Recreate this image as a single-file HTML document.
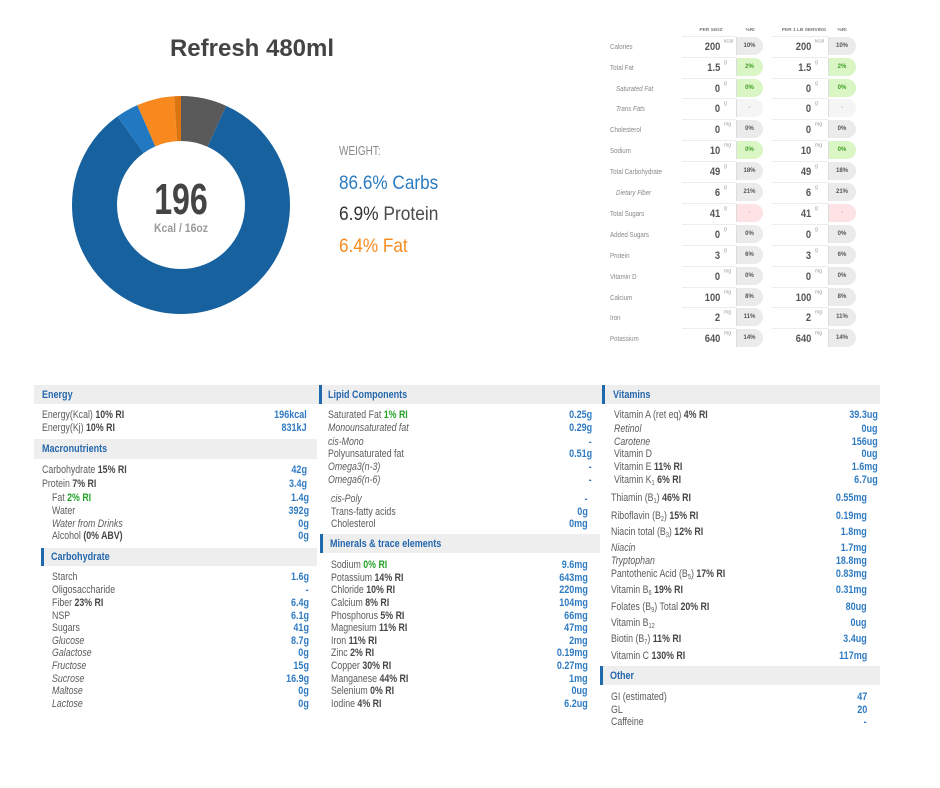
<!DOCTYPE html>
<html><head><meta charset="utf-8">
<style>
html,body{margin:0;padding:0}
body{width:940px;height:788px;background:#fff;position:relative;overflow:hidden;font-family:"Liberation Sans",sans-serif}
.a{position:absolute;white-space:nowrap}
.l{position:absolute;white-space:nowrap;font-size:11px;line-height:12px;color:#5c5c5c;transform:scaleX(.8);transform-origin:0 0}
.l b{color:#464646}
.l .g{color:#25a329;font-weight:bold}
.l sub{font-size:7px;vertical-align:-2px;line-height:0}
.v{position:absolute;white-space:nowrap;font-size:11px;line-height:12px;color:#2f7bc2;font-weight:bold;transform:scaleX(.82);transform-origin:100% 0;text-align:right}
.h{position:absolute;background:#eeeeee;height:19px}
.ht{position:absolute;font-size:11px;line-height:12px;color:#2467ad;font-weight:bold;transform:scaleX(.82);transform-origin:0 0;white-space:nowrap}
.bar{position:absolute;width:3px;background:#1f69ad}
.r{position:absolute;left:0;width:940px;height:21px}
.tl{position:absolute;left:610px;top:5.5px;font-size:7.5px;line-height:9px;color:#888;transform:scaleX(.82);transform-origin:0 0;white-space:nowrap}
.tl.i{left:616px;font-style:italic}
.ln1{position:absolute;left:682px;top:0;width:54px;height:1px;background:#ececec}
.ln2{position:absolute;left:772px;top:0;width:56px;height:1px;background:#ececec}
.n1,.n2{position:absolute;top:5.7px;font-size:11px;line-height:11px;color:#555;font-weight:bold;transform:scaleX(.85);transform-origin:100% 0;text-align:right;white-space:nowrap}
.n1{right:220px}.n2{right:129px}
.u1,.u2{position:absolute;top:3px;font-size:6px;line-height:6px;color:#999;transform:scale(.85);transform-origin:0 0;white-space:nowrap}
.u1{left:724px}.u2{left:815px}
.p1,.p2{position:absolute;top:1px;height:18px;border-radius:0 9px 9px 0;background:#ebebeb;font-size:6px;line-height:18px;font-weight:bold;color:#555;text-align:center;box-shadow:inset 1px 0 0 #dcdcdc}
.p1{left:736px;width:27px}.p2{left:828px;width:28px}
.gr{background:#d9f6c4;color:#3f9f28}
.pk{background:#fde2e6;color:#e9a0a8}
.wt{background:#f5f5f5;color:#aaa}
.th{position:absolute;top:27px;width:60px;text-align:center;font-size:6px;line-height:6px;font-weight:bold;color:#777;transform:scale(.8);white-space:nowrap}
</style></head><body>

<!-- Title -->
<div class="a" style="left:152px;top:36.5px;width:200px;text-align:center;font-size:24px;line-height:24px;font-weight:bold;color:#444">Refresh 480ml</div>

<!-- Donut -->
<svg class="a" style="left:0;top:0" width="470" height="340" viewBox="0 0 470 340">
<g transform="rotate(-90 181 205)" fill="none" stroke-width="45">
<circle cx="181" cy="205" r="86.5" stroke="#5a5a5a" stroke-dasharray="37.0 600" stroke-dashoffset="0"/>
<circle cx="181" cy="205" r="86.5" stroke="#17619f" stroke-dasharray="452.5 600" stroke-dashoffset="-37.0"/>
<circle cx="181" cy="205" r="86.5" stroke="#2379c1" stroke-dasharray="18.1 600" stroke-dashoffset="-489.5"/>
<circle cx="181" cy="205" r="86.5" stroke="#f7891e" stroke-dasharray="30.2 600" stroke-dashoffset="-507.6"/>
<circle cx="181" cy="205" r="86.5" stroke="#dc740f" stroke-dasharray="6.0 600" stroke-dashoffset="-537.8"/>
</g>
</svg>
<div class="a" style="left:131px;top:177.8px;width:100px;text-align:center;font-size:44px;line-height:44px;font-weight:bold;color:#444;transform:scaleX(.73)">196</div>
<div class="a" style="left:131px;top:221.5px;width:100px;text-align:center;font-size:12px;line-height:12px;font-weight:bold;color:#9a9a9a;transform:scaleX(.87)">Kcal / 16oz</div>

<!-- Weight legend -->
<div class="a" style="left:339px;top:145.4px;font-size:12.5px;line-height:12.5px;color:#888;transform:scaleX(.8);transform-origin:0 0">WEIGHT:</div>
<div class="a" style="left:339px;top:173.5px;font-size:19.5px;line-height:19.5px;color:#2b7bc0;transform:scaleX(.88);transform-origin:0 0">86.6% Carbs</div>
<div class="a" style="left:339px;top:205.2px;font-size:19.5px;line-height:19.5px;color:#4a4a4a;transform:scaleX(.89);transform-origin:0 0"><span style="color:#333">6.9%</span> Protein</div>
<div class="a" style="left:339px;top:236.8px;font-size:19.5px;line-height:19.5px;color:#f68b1f;transform:scaleX(.88);transform-origin:0 0">6.4% Fat</div>

<!-- Right nutrition table -->
<div class="th" style="left:681px">PER 16OZ</div>
<div class="th" style="left:720px">%RI</div>
<div class="th" style="left:774px">PER 1 LB SERVING</div>
<div class="th" style="left:812px">%RI</div>

<div class="r" style="top:36px"><div class="tl">Calories</div><div class="ln1"></div><div class="ln2"></div><div class="n1">200</div><div class="u1">kcal</div><div class="p1">10%</div><div class="n2">200</div><div class="u2">kcal</div><div class="p2">10%</div></div>
<div class="r" style="top:57px"><div class="tl">Total Fat</div><div class="ln1"></div><div class="ln2"></div><div class="n1">1.5</div><div class="u1">g</div><div class="p1 gr">2%</div><div class="n2">1.5</div><div class="u2">g</div><div class="p2 gr">2%</div></div>
<div class="r" style="top:78px"><div class="tl i">Saturated Fat</div><div class="ln1"></div><div class="ln2"></div><div class="n1">0</div><div class="u1">g</div><div class="p1 gr">0%</div><div class="n2">0</div><div class="u2">g</div><div class="p2 gr">0%</div></div>
<div class="r" style="top:98px"><div class="tl i">Trans Fats</div><div class="ln1"></div><div class="ln2"></div><div class="n1">0</div><div class="u1">g</div><div class="p1 wt">-</div><div class="n2">0</div><div class="u2">g</div><div class="p2 wt">-</div></div>
<div class="r" style="top:119px"><div class="tl">Cholesterol</div><div class="ln1"></div><div class="ln2"></div><div class="n1">0</div><div class="u1">mg</div><div class="p1">0%</div><div class="n2">0</div><div class="u2">mg</div><div class="p2">0%</div></div>
<div class="r" style="top:140px"><div class="tl">Sodium</div><div class="ln1"></div><div class="ln2"></div><div class="n1">10</div><div class="u1">mg</div><div class="p1 gr">0%</div><div class="n2">10</div><div class="u2">mg</div><div class="p2 gr">0%</div></div>
<div class="r" style="top:161px"><div class="tl">Total Carbohydrate</div><div class="ln1"></div><div class="ln2"></div><div class="n1">49</div><div class="u1">g</div><div class="p1">18%</div><div class="n2">49</div><div class="u2">g</div><div class="p2">18%</div></div>
<div class="r" style="top:182px"><div class="tl i">Dietary Fiber</div><div class="ln1"></div><div class="ln2"></div><div class="n1">6</div><div class="u1">g</div><div class="p1">21%</div><div class="n2">6</div><div class="u2">g</div><div class="p2">21%</div></div>
<div class="r" style="top:203px"><div class="tl">Total Sugars</div><div class="ln1"></div><div class="ln2"></div><div class="n1">41</div><div class="u1">g</div><div class="p1 pk">-</div><div class="n2">41</div><div class="u2">g</div><div class="p2 pk">-</div></div>
<div class="r" style="top:224px"><div class="tl">Added Sugars</div><div class="ln1"></div><div class="ln2"></div><div class="n1">0</div><div class="u1">g</div><div class="p1">0%</div><div class="n2">0</div><div class="u2">g</div><div class="p2">0%</div></div>
<div class="r" style="top:245px"><div class="tl">Protein</div><div class="ln1"></div><div class="ln2"></div><div class="n1">3</div><div class="u1">g</div><div class="p1">6%</div><div class="n2">3</div><div class="u2">g</div><div class="p2">6%</div></div>
<div class="r" style="top:266px"><div class="tl">Vitamin D</div><div class="ln1"></div><div class="ln2"></div><div class="n1">0</div><div class="u1">mg</div><div class="p1">0%</div><div class="n2">0</div><div class="u2">mg</div><div class="p2">0%</div></div>
<div class="r" style="top:287px"><div class="tl">Calcium</div><div class="ln1"></div><div class="ln2"></div><div class="n1">100</div><div class="u1">mg</div><div class="p1">8%</div><div class="n2">100</div><div class="u2">mg</div><div class="p2">8%</div></div>
<div class="r" style="top:307px"><div class="tl">Iron</div><div class="ln1"></div><div class="ln2"></div><div class="n1">2</div><div class="u1">mg</div><div class="p1">11%</div><div class="n2">2</div><div class="u2">mg</div><div class="p2">11%</div></div>
<div class="r" style="top:328px"><div class="tl">Potassium</div><div class="ln1"></div><div class="ln2"></div><div class="n1">640</div><div class="u1">mg</div><div class="p1">14%</div><div class="n2">640</div><div class="u2">mg</div><div class="p2">14%</div></div>

<!-- ===== Column 1 ===== -->
<div class="h" style="left:34px;top:385px;width:283px"></div>
<div class="ht" style="left:42px;top:389px">Energy</div>
<div class="l" style="left:42px;top:409px">Energy(Kcal) <b>10% RI</b></div><div class="v" style="right:633px;top:409px">196kcal</div>
<div class="l" style="left:42px;top:422px">Energy(Kj) <b>10% RI</b></div><div class="v" style="right:633px;top:422px">831kJ</div>

<div class="h" style="left:34px;top:439px;width:283px;height:20px"></div>
<div class="ht" style="left:42px;top:443px">Macronutrients</div>
<div class="l" style="left:42px;top:464px">Carbohydrate <b>15% RI</b></div><div class="v" style="right:633px;top:464px">42g</div>
<div class="l" style="left:42px;top:478px">Protein <b>7% RI</b></div><div class="v" style="right:633px;top:478px">3.4g</div>
<div class="l" style="left:52px;top:492px">Fat <span class="g">2% RI</span></div><div class="v" style="right:631px;top:492px">1.4g</div>
<div class="l" style="left:52px;top:505px">Water</div><div class="v" style="right:631px;top:505px">392g</div>
<div class="l" style="left:52px;top:518px"><i>Water from Drinks</i></div><div class="v" style="right:631px;top:518px">0g</div>
<div class="l" style="left:52px;top:530px">Alcohol <b>(0% ABV)</b></div><div class="v" style="right:631px;top:530px">0g</div>

<div class="h" style="left:41px;top:548px;width:276px;height:18px"></div>
<div class="bar" style="left:41px;top:548px;height:18px"></div>
<div class="ht" style="left:51px;top:551px">Carbohydrate</div>
<div class="l" style="left:52px;top:571px">Starch</div><div class="v" style="right:631px;top:571px">1.6g</div>
<div class="l" style="left:52px;top:584px">Oligosaccharide</div><div class="v" style="right:631px;top:584px">-</div>
<div class="l" style="left:52px;top:597px">Fiber <b>23% RI</b></div><div class="v" style="right:631px;top:597px">6.4g</div>
<div class="l" style="left:52px;top:610px">NSP</div><div class="v" style="right:631px;top:610px">6.1g</div>
<div class="l" style="left:52px;top:622px">Sugars</div><div class="v" style="right:631px;top:622px">41g</div>
<div class="l" style="left:52px;top:635px"><i>Glucose</i></div><div class="v" style="right:631px;top:635px">8.7g</div>
<div class="l" style="left:52px;top:647px"><i>Galactose</i></div><div class="v" style="right:631px;top:647px">0g</div>
<div class="l" style="left:52px;top:660px"><i>Fructose</i></div><div class="v" style="right:631px;top:660px">15g</div>
<div class="l" style="left:52px;top:673px"><i>Sucrose</i></div><div class="v" style="right:631px;top:673px">16.9g</div>
<div class="l" style="left:52px;top:685px"><i>Maltose</i></div><div class="v" style="right:631px;top:685px">0g</div>
<div class="l" style="left:52px;top:698px"><i>Lactose</i></div><div class="v" style="right:631px;top:698px">0g</div>

<!-- ===== Column 2 ===== -->
<div class="h" style="left:317px;top:385px;width:286px"></div>
<div class="bar" style="left:319px;top:385px;height:19px"></div>
<div class="ht" style="left:328px;top:389px">Lipid Components</div>
<div class="l" style="left:328px;top:409px">Saturated Fat <span class="g">1% RI</span></div><div class="v" style="right:348px;top:409px">0.25g</div>
<div class="l" style="left:328px;top:422px"><i>Monounsaturated fat</i></div><div class="v" style="right:348px;top:422px">0.29g</div>
<div class="l" style="left:328px;top:436px"><i>cis-Mono</i></div><div class="v" style="right:348px;top:436px">-</div>
<div class="l" style="left:328px;top:448px">Polyunsaturated fat</div><div class="v" style="right:348px;top:448px">0.51g</div>
<div class="l" style="left:328px;top:461px"><i>Omega3(n-3)</i></div><div class="v" style="right:348px;top:461px">-</div>
<div class="l" style="left:328px;top:474px"><i>Omega6(n-6)</i></div><div class="v" style="right:348px;top:474px">-</div>
<div class="l" style="left:331px;top:493px"><i>cis-Poly</i></div><div class="v" style="right:352px;top:493px">-</div>
<div class="l" style="left:331px;top:506px">Trans-fatty acids</div><div class="v" style="right:352px;top:506px">0g</div>
<div class="l" style="left:331px;top:518px">Cholesterol</div><div class="v" style="right:352px;top:518px">0mg</div>

<div class="h" style="left:320px;top:534px;width:280px"></div>
<div class="bar" style="left:320px;top:534px;height:19px"></div>
<div class="ht" style="left:330px;top:538px">Minerals &amp; trace elements</div>
<div class="l" style="left:331px;top:559px">Sodium <span class="g">0% RI</span></div><div class="v" style="right:352px;top:559px">9.6mg</div>
<div class="l" style="left:331px;top:572px">Potassium <b>14% RI</b></div><div class="v" style="right:352px;top:572px">643mg</div>
<div class="l" style="left:331px;top:584px">Chloride <b>10% RI</b></div><div class="v" style="right:352px;top:584px">220mg</div>
<div class="l" style="left:331px;top:597px">Calcium <b>8% RI</b></div><div class="v" style="right:352px;top:597px">104mg</div>
<div class="l" style="left:331px;top:610px">Phosphorus <b>5% RI</b></div><div class="v" style="right:352px;top:610px">66mg</div>
<div class="l" style="left:331px;top:622px">Magnesium <b>11% RI</b></div><div class="v" style="right:352px;top:622px">47mg</div>
<div class="l" style="left:331px;top:635px">Iron <b>11% RI</b></div><div class="v" style="right:352px;top:635px">2mg</div>
<div class="l" style="left:331px;top:647px">Zinc <b>2% RI</b></div><div class="v" style="right:352px;top:647px">0.19mg</div>
<div class="l" style="left:331px;top:660px">Copper <b>30% RI</b></div><div class="v" style="right:352px;top:660px">0.27mg</div>
<div class="l" style="left:331px;top:673px">Manganese <b>44% RI</b></div><div class="v" style="right:352px;top:673px">1mg</div>
<div class="l" style="left:331px;top:685px">Selenium <b>0% RI</b></div><div class="v" style="right:352px;top:685px">0ug</div>
<div class="l" style="left:331px;top:698px">Iodine <b>4% RI</b></div><div class="v" style="right:352px;top:698px">6.2ug</div>

<!-- ===== Column 3 ===== -->
<div class="h" style="left:602px;top:385px;width:278px"></div>
<div class="bar" style="left:602px;top:385px;height:19px"></div>
<div class="ht" style="left:613px;top:389px">Vitamins</div>
<div class="l" style="left:614px;top:409px">Vitamin A (ret eq) <b>4% RI</b></div><div class="v" style="right:62px;top:409px">39.3ug</div>
<div class="l" style="left:614px;top:423px"><i>Retinol</i></div><div class="v" style="right:62px;top:423px">0ug</div>
<div class="l" style="left:614px;top:436px"><i>Carotene</i></div><div class="v" style="right:62px;top:436px">156ug</div>
<div class="l" style="left:614px;top:448px">Vitamin D</div><div class="v" style="right:62px;top:448px">0ug</div>
<div class="l" style="left:614px;top:461px">Vitamin E <b>11% RI</b></div><div class="v" style="right:62px;top:461px">1.6mg</div>
<div class="l" style="left:614px;top:474px">Vitamin K<sub>1</sub> <b>6% RI</b></div><div class="v" style="right:62px;top:474px">6.7ug</div>

<div class="l" style="left:611px;top:492px">Thiamin (B<sub>1</sub>) <b>46% RI</b></div><div class="v" style="right:73px;top:492px">0.55mg</div>
<div class="l" style="left:611px;top:510px">Riboflavin (B<sub>2</sub>) <b>15% RI</b></div><div class="v" style="right:73px;top:510px">0.19mg</div>
<div class="l" style="left:611px;top:526px">Niacin total (B<sub>3</sub>) <b>12% RI</b></div><div class="v" style="right:73px;top:526px">1.8mg</div>
<div class="l" style="left:611px;top:542px"><i>Niacin</i></div><div class="v" style="right:73px;top:542px">1.7mg</div>
<div class="l" style="left:611px;top:555px"><i>Tryptophan</i></div><div class="v" style="right:73px;top:555px">18.8mg</div>
<div class="l" style="left:611px;top:568px">Pantothenic Acid (B<sub>5</sub>) <b>17% RI</b></div><div class="v" style="right:73px;top:568px">0.83mg</div>
<div class="l" style="left:611px;top:584px">Vitamin B<sub>6</sub> <b>19% RI</b></div><div class="v" style="right:73px;top:584px">0.31mg</div>
<div class="l" style="left:611px;top:601px">Folates (B<sub>9</sub>) Total <b>20% RI</b></div><div class="v" style="right:73px;top:601px">80ug</div>
<div class="l" style="left:611px;top:617px">Vitamin B<sub>12</sub></div><div class="v" style="right:73px;top:617px">0ug</div>
<div class="l" style="left:611px;top:633px">Biotin (B<sub>7</sub>) <b>11% RI</b></div><div class="v" style="right:73px;top:633px">3.4ug</div>
<div class="l" style="left:611px;top:650px">Vitamin C <b>130% RI</b></div><div class="v" style="right:73px;top:650px">117mg</div>

<div class="h" style="left:600px;top:666px;width:280px"></div>
<div class="bar" style="left:600px;top:666px;height:19px"></div>
<div class="ht" style="left:610px;top:670px">Other</div>
<div class="l" style="left:611px;top:691px">GI (estimated)</div><div class="v" style="right:73px;top:691px">47</div>
<div class="l" style="left:611px;top:704px">GL</div><div class="v" style="right:73px;top:704px">20</div>
<div class="l" style="left:611px;top:716px">Caffeine</div><div class="v" style="right:73px;top:716px">-</div>

</body></html>
